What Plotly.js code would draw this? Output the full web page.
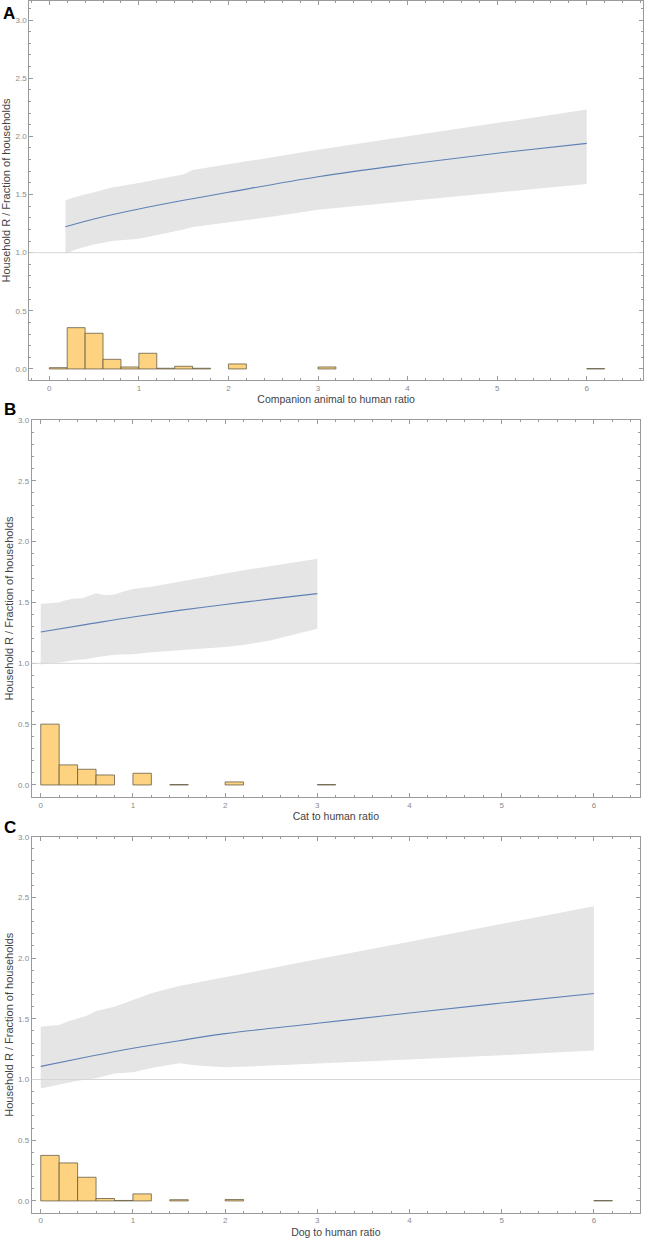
<!DOCTYPE html>
<html>
<head>
<meta charset="utf-8">
<script src="https://cdn.plot.ly/plotly-3.0.1.min.js"></script>
<style>
html,body{margin:0;padding:0;background:#fff;}
#chart{width:645px;height:1240px;}
</style>
</head>
<body>
<div id="chart"></div>
<script>
// ---------- Data ----------
const panelLabels = ["A", "B", "C"];
const xTitles = ["Companion animal to human ratio", "Cat to human ratio", "Dog to human ratio"];
const yTitle = "Household R / Fraction of households";
const refLevel = 1.0;
const binWidth = 0.2;

// Panel A: companion animals
const bandA_x = [0.18, 0.3, 0.5, 0.7, 1.0, 1.3, 1.5, 1.6, 2.0, 2.5, 3.0, 4.0, 5.0, 6.0];
const upperA  = [1.45, 1.48, 1.52, 1.56, 1.60, 1.645, 1.675, 1.71, 1.76, 1.825, 1.885, 2.0, 2.115, 2.23];
const lowerA  = [0.99, 1.03, 1.07, 1.10, 1.12, 1.165, 1.20, 1.22, 1.26, 1.31, 1.37, 1.445, 1.515, 1.59];
const fitA_x  = [0.18, 0.5, 1.0, 1.5, 2.0, 3.0, 4.0, 5.0, 6.0];
const fitA    = [1.223, 1.29, 1.375, 1.45, 1.519, 1.653, 1.76, 1.855, 1.94];
const binsA   = [0.1, 0.3, 0.5, 0.7, 0.9, 1.1, 1.3, 1.5, 1.7, 2.1, 3.1, 6.1];
const fracA   = [0.011, 0.355, 0.307, 0.083, 0.017, 0.135, 0.006, 0.023, 0.006, 0.043, 0.017, 0.003];

// Panel B: cats
const bandB_x = [0, 0.2, 0.25, 0.35, 0.45, 0.5, 0.6, 0.7, 0.8, 0.9, 1.0, 1.2, 1.5, 2.0, 2.2, 2.5, 3.0];
const upperB  = [1.49, 1.50, 1.515, 1.53, 1.535, 1.55, 1.575, 1.56, 1.565, 1.59, 1.61, 1.63, 1.67, 1.74, 1.765, 1.80, 1.86];
const lowerB  = [0.99, 1.005, 1.01, 1.025, 1.03, 1.035, 1.05, 1.06, 1.07, 1.072, 1.075, 1.09, 1.105, 1.135, 1.15, 1.19, 1.285];
const fitB_x  = [0, 0.5, 1.0, 1.5, 2.0, 2.5, 3.0];
const fitB    = [1.258, 1.32, 1.381, 1.435, 1.483, 1.53, 1.573];
const binsB   = [0.1, 0.3, 0.5, 0.7, 1.1, 1.5, 2.1, 3.1];
const fracB   = [0.50, 0.165, 0.129, 0.082, 0.096, 0.003, 0.025, 0.003];

// Panel C: dogs
const bandC_x = [0, 0.2, 0.3, 0.4, 0.5, 0.6, 0.8, 1.0, 1.2, 1.5, 1.7, 2.0, 2.5, 3.0, 4.0, 5.0, 6.0];
const upperC  = [1.435, 1.45, 1.48, 1.505, 1.525, 1.565, 1.60, 1.655, 1.71, 1.77, 1.80, 1.845, 1.92, 1.99, 2.135, 2.28, 2.428];
const lowerC  = [0.925, 0.96, 0.975, 0.99, 1.0, 1.01, 1.05, 1.06, 1.095, 1.135, 1.115, 1.10, 1.115, 1.13, 1.165, 1.20, 1.24];
const fitC_x  = [0, 0.5, 1.0, 1.5, 2.0, 3.0, 4.0, 5.0, 6.0];
const fitC    = [1.108, 1.185, 1.257, 1.32, 1.378, 1.463, 1.548, 1.63, 1.708];
const binsC   = [0.1, 0.3, 0.5, 0.7, 0.9, 1.1, 1.5, 2.1, 6.1];
const fracC   = [0.375, 0.313, 0.195, 0.02, 0.004, 0.058, 0.01, 0.012, 0.003];

const xTicks = [0, 1, 2, 3, 4, 5, 6];
const yTicks = [0, 0.5, 1.0, 1.5, 2.0, 2.5, 3.0];
const yTickText = ["0.0", "0.5", "1.0", "1.5", "2.0", "2.5", "3.0"];

// ---------- Styling ----------
const W = 645, H = 1240;
const FONT = "Liberation Sans, Arial, sans-serif";
const bandColor = "#e5e5e5";
const lineColor = "#5e81b5";
const barFill = "rgb(253,210,128)";
const barEdge = "rgba(95,85,65,0.75)";
const axisGray = "#9a9a9a";

const panels = [
  {bx: bandA_x, up: upperA, lo: lowerA, fx: fitA_x, fy: fitA, hx: binsA, hy: fracA,
   px: [29.3, 643], py: [1, 380], xr: [-0.223, 6.628], yr: [-0.095, 3.164], label: [1, 2]},
  {bx: bandB_x, up: upperB, lo: lowerB, fx: fitB_x, fy: fitB, hx: binsB, hy: fracB,
   px: [31.7, 640], py: [420, 797], xr: [-0.098, 6.50], yr: [-0.099, 3.0], label: [2, 398]},
  {bx: bandC_x, up: upperC, lo: lowerC, fx: fitC_x, fy: fitC, hx: binsC, hy: fracC,
   px: [31.7, 640], py: [836.7, 1212.7], xr: [-0.098, 6.50], yr: [-0.097, 3.0], label: [2, 816]}
];

const traces = [];
const layout = {
  width: W, height: H,
  margin: {l: 0, r: 0, t: 0, b: 0},
  paper_bgcolor: "#fff", plot_bgcolor: "#fff",
  showlegend: false,
  font: {family: FONT},
  shapes: [], annotations: []
};

panels.forEach((p, i) => {
  const n = i === 0 ? "" : String(i + 1);
  const xa = "x" + n, ya = "y" + n;
  // bars
  traces.push({
    type: "bar", x: p.hx, y: p.hy, width: binWidth, xaxis: xa, yaxis: ya,
    marker: {color: barFill, line: {color: barEdge, width: 1}}, hoverinfo: "skip"
  });
  // confidence band
  traces.push({
    type: "scatter", mode: "lines", x: p.bx, y: p.lo, xaxis: xa, yaxis: ya,
    line: {width: 0, color: bandColor}, hoverinfo: "skip"
  });
  traces.push({
    type: "scatter", mode: "lines", x: p.bx, y: p.up, xaxis: xa, yaxis: ya,
    fill: "tonexty", fillcolor: bandColor,
    line: {width: 0, color: bandColor}, hoverinfo: "skip"
  });
  // fitted curve
  traces.push({
    type: "scatter", mode: "lines", x: p.fx, y: p.fy, xaxis: xa, yaxis: ya,
    line: {width: 1.1, color: lineColor, shape: "spline", smoothing: 1}, hoverinfo: "skip"
  });

  const xd = [p.px[0] / W, p.px[1] / W];
  const yd = [1 - p.py[1] / H, 1 - p.py[0] / H];
  const axKey = i === 0 ? "" : String(i + 1);
  layout["xaxis" + axKey] = {
    domain: xd, anchor: ya, range: p.xr,
    tickmode: "array", tickvals: xTicks, ticktext: xTicks.map(String),
    ticks: "inside", ticklen: 4, tickwidth: 1, tickcolor: axisGray,
    minor: {dtick: 0.2, tick0: 0, ticks: "inside", ticklen: 2, tickcolor: axisGray, showgrid: false},
    showline: true, linecolor: axisGray, linewidth: 1, mirror: "allticks",
    showgrid: false, zeroline: false,
    tickfont: {size: 8, color: "#8a8a8a", family: FONT},
    title: {text: xTitles[i], font: {size: 10.5, color: "#444", family: FONT}, standoff: 4},
    automargin: false, fixedrange: true
  };
  layout["yaxis" + axKey] = {
    domain: yd, anchor: xa, range: p.yr,
    tickmode: "array", tickvals: yTicks, ticktext: yTickText,
    ticks: "inside", ticklen: 4, tickwidth: 1, tickcolor: axisGray,
    minor: {dtick: 0.1, tick0: 0, ticks: "inside", ticklen: 2, tickcolor: axisGray, showgrid: false},
    showline: true, linecolor: axisGray, linewidth: 1, mirror: "allticks",
    showgrid: false, zeroline: false,
    tickfont: {size: 8, color: "#8a8a8a", family: FONT},
    title: {text: yTitle, font: {size: 11, color: "#444", family: FONT}, standoff: 2},
    automargin: false, fixedrange: true
  };
  // reference line at R = 1
  layout.shapes.push({
    type: "line", xref: xa + " domain", yref: ya,
    x0: 0, x1: 1, y0: refLevel, y1: refLevel,
    line: {color: "#d6d6d6", width: 1}
  });
  // panel letter
  layout.annotations.push({
    text: "<b>" + panelLabels[i] + "</b>", xref: "paper", yref: "paper",
    x: p.label[0] / W, y: 1 - p.label[1] / H, xanchor: "left", yanchor: "top",
    showarrow: false, font: {size: 17, color: "#000", family: FONT}
  });
});

Plotly.newPlot("chart", traces, layout, {staticPlot: true, displayModeBar: false});
</script>
</body>
</html>
